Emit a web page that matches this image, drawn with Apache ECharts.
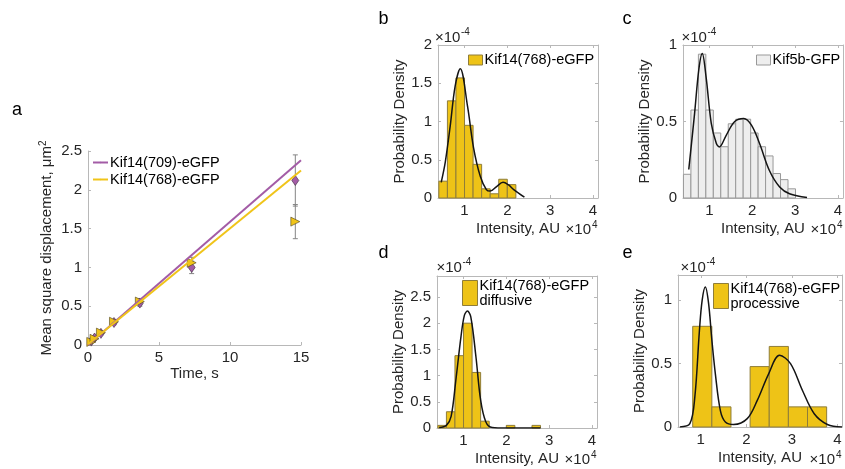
<!DOCTYPE html>
<html><head><meta charset="utf-8">
<script src="https://cdn.jsdelivr.net/npm/echarts@6/dist/echarts.min.js"></script>
<style>html,body{margin:0;padding:0;background:#fff}#c{width:845px;height:469px}</style>
</head><body><div id="c"></div>
<script>
// ---------- Panel a: mean square displacement ----------
const msdTime = [0.23, 0.46, 0.91, 1.83, 3.65, 7.3, 14.6];
const msd709 = [0.05, 0.09, 0.15, 0.29, 0.54, 1.00, 2.12];
const msd709Err = [0.01, 0.015, 0.02, 0.03, 0.04, 0.08, 0.33];
const msd768 = [0.04, 0.08, 0.16, 0.30, 0.56, 1.06, 1.59];
const msd768Err = [0.01, 0.015, 0.02, 0.03, 0.04, 0.07, 0.22];
const fitTime = [0, 15];
const fit709 = [0.0, 2.38];
const fit768 = [0.01, 2.25];
const aXTicks = [0, 5, 10, 15];
const aYTicks = [0, 0.5, 1, 1.5, 2, 2.5];

// ---------- Panel b: Kif14(768)-eGFP histogram ----------
const edgesB = [0.4, 0.6, 0.8, 1.0, 1.2, 1.4, 1.6, 1.8, 2.0, 2.2];
const densB = [0.22, 1.27, 1.57, 0.95, 0.44, 0.12, 0.055, 0.245, 0.175];
const fitBX = [0.455, 0.55, 0.665, 0.78, 0.9, 1.07, 1.21, 1.37, 1.51, 1.6, 1.75, 1.9, 2.03, 2.15, 2.4];
const fitBY = [0.205, 0.47, 0.94, 1.46, 1.69, 1.2, 0.66, 0.28, 0.11, 0.09, 0.15, 0.205, 0.17, 0.11, 0.01];
const bYTicks = [0, 0.5, 1, 1.5, 2];

// ---------- Panel c: Kif5b-GFP histogram ----------
const edgesC = [0.39, 0.565, 0.74, 0.914, 1.089, 1.263, 1.438, 1.612, 1.787, 1.962, 2.136, 2.311, 2.485, 2.66, 2.835, 3.01];
const densC = [0.155, 0.575, 0.94, 0.575, 0.425, 0.335, 0.485, 0.515, 0.515, 0.425, 0.335, 0.275, 0.16, 0.12, 0.06];
const fitCX = [0.515, 0.65, 0.75, 0.83, 0.92, 1.04, 1.16, 1.23, 1.39, 1.59, 1.8, 1.98, 2.17, 2.4, 2.64, 2.87, 3.28];
const fitCY = [0.186, 0.55, 0.84, 0.945, 0.79, 0.49, 0.356, 0.334, 0.41, 0.50, 0.52, 0.476, 0.356, 0.18, 0.072, 0.028, 0.003];
const cYTicks = [0, 0.5, 1];

// ---------- Panel d: diffusive ----------
const edgesD = [0.4, 0.6, 0.8, 1.0, 1.2, 1.4, 1.6, 1.8, 2.0, 2.2, 2.4, 2.6, 2.8];
const densD = [0.05, 0.31, 1.38, 2.0, 1.06, 0.13, 0, 0, 0.05, 0, 0, 0.05];
const fitDX = [0.43, 0.6, 0.71, 0.82, 0.94, 1.02, 1.09, 1.17, 1.29, 1.4, 1.52, 1.67, 2.0, 2.8];
const fitDY = [0.01, 0.05, 0.22, 0.91, 1.74, 2.15, 2.23, 2.12, 1.36, 0.53, 0.12, 0.01, 0, 0];
const dYTicks = [0, 0.5, 1, 1.5, 2, 2.5];

// ---------- Panel e: processive ----------
const edgesE = [0.823, 1.243, 1.663, 2.083, 2.503, 2.923, 3.343, 3.763];
const densE = [0.795, 0.159, 0, 0.477, 0.636, 0.159, 0.159];
const fitEX = [0.54, 0.76, 0.87, 0.97, 1.03, 1.1, 1.17, 1.24, 1.32, 1.43, 1.54, 1.72, 2.02, 2.24, 2.49, 2.73, 2.97, 3.23, 3.49, 3.78, 4.1];
const fitEY = [0.0, 0.026, 0.24, 0.76, 1.0, 1.105, 0.98, 0.7, 0.42, 0.13, 0.04, 0.02, 0.066, 0.21, 0.42, 0.566, 0.5, 0.29, 0.105, 0.02, 0.0];
const eYTicks = [0, 0.5, 1];

const histXTicks = [1, 2, 3, 4];

// ---------- styles ----------
const FONT = '"Liberation Sans", Arial, Helvetica, sans-serif';
const TXT = '#262626';
const AX = '#b8b8b8';
const PURPLE = '#A35CA6';
const YELLOW = '#F0C419';
const BARYEL = '#EEC317';
const BAREDGE = '#8f7d3a';
const GRAYBAR = '#EEEEEE';
const GRAYEDGE = '#999999';
const CURVE = '#141414';

function zip(xs, ys) { return xs.map((x, i) => [x, ys[i]]); }
function makeBars(edges, dens) { return dens.map((h, i) => [edges[i], edges[i + 1], h]); }

function barRender(fill, stroke) {
  return function (params, api) {
    const h = api.value(2);
    if (!(h > 0)) return null;
    const p0 = api.coord([api.value(0), 0]);
    const p1 = api.coord([api.value(1), h]);
    return { type: 'rect', shape: { x: p0[0], y: p1[1], width: p1[0] - p0[0], height: p0[1] - p1[1] },
      style: { fill: fill, stroke: stroke, lineWidth: 1 } };
  };
}
function errRender(params, api) {
  const x = api.value(0);
  const lo = api.coord([x, api.value(1)]);
  const hi = api.coord([x, api.value(2)]);
  const cw = 2.5, st = { stroke: '#858585', lineWidth: 1 };
  return { type: 'group', children: [
    { type: 'line', shape: { x1: lo[0], y1: lo[1], x2: hi[0], y2: hi[1] }, style: st },
    { type: 'line', shape: { x1: lo[0] - cw, y1: lo[1], x2: lo[0] + cw, y2: lo[1] }, style: st },
    { type: 'line', shape: { x1: hi[0] - cw, y1: hi[1], x2: hi[0] + cw, y2: hi[1] }, style: st }
  ] };
}

const nameStyle = { fontSize: 15, color: TXT, fontFamily: FONT };
function xAx(grid, min, max, ticks, extra) {
  return Object.assign({
    type: 'value', gridIndex: grid, min: min, max: max, position: 'bottom',
    axisLine: { show: true, onZero: false, lineStyle: { color: AX, width: 1 } },
    axisTick: { show: true, inside: true, length: 3, customValues: ticks, lineStyle: { color: AX } },
    axisLabel: { show: true, customValues: ticks, color: TXT, fontSize: 15, fontFamily: FONT, margin: 5 },
    splitLine: { show: false }
  }, extra || {});
}
function yAx(grid, min, max, ticks, extra) {
  return Object.assign({
    type: 'value', gridIndex: grid, min: min, max: max, position: 'left',
    axisLine: { show: true, onZero: false, lineStyle: { color: AX, width: 1 } },
    axisTick: { show: true, inside: true, length: 3, customValues: ticks, lineStyle: { color: AX } },
    axisLabel: { show: true, customValues: ticks, color: TXT, fontSize: 15, fontFamily: FONT, margin: 6 },
    splitLine: { show: false }
  }, extra || {});
}
function histX(grid, min, max) {
  return [
    xAx(grid, min, max, histXTicks, { name: 'Intensity, AU', nameLocation: 'middle', nameGap: 23, nameTextStyle: nameStyle }),
    xAx(grid, min, max, histXTicks, { position: 'top', axisLabel: { show: false } })
  ];
}
function histY(grid, max, ticks, gap) {
  return [
    yAx(grid, 0, max, ticks, { name: 'Probability Density', nameLocation: 'middle', nameRotate: 90, nameGap: gap, nameTextStyle: nameStyle }),
    yAx(grid, 0, max, ticks, { position: 'right', axisLabel: { show: false } })
  ];
}

function txt(x, y, s, size, align, vAlign) {
  return { type: 'text', x: x, y: y, style: { text: s, fontSize: size, fontFamily: FONT, fill: '#000', align: align || 'left', verticalAlign: vAlign || 'middle' } };
}
function expTop(x, baseline) {
  return [
    { type: 'text', x: x, y: baseline - 5, style: { text: '×10', fontSize: 15, fontFamily: FONT, fill: TXT, align: 'left', verticalAlign: 'middle' } },
    { type: 'text', x: x + 26, y: baseline - 10, style: { text: '-4', fontSize: 10, fontFamily: FONT, fill: TXT, align: 'left', verticalAlign: 'middle' } }
  ];
}
function expBottom(right, baseline) {
  return [
    { type: 'text', x: right - 7, y: baseline - 5, style: { text: '×10', fontSize: 15, fontFamily: FONT, fill: TXT, align: 'right', verticalAlign: 'middle' } },
    { type: 'text', x: right - 6, y: baseline - 10, style: { text: '4', fontSize: 10, fontFamily: FONT, fill: TXT, align: 'left', verticalAlign: 'middle' } }
  ];
}

const legText = { fontSize: 14.5, color: '#000', fontFamily: FONT, lineHeight: 15, padding: [0, 0, 0, -3] };

const option = {
  animation: false,
  backgroundColor: '#fff',
  grid: [
    { left: 88, top: 151, width: 213, height: 194 },
    { left: 438, top: 45, width: 160, height: 153 },
    { left: 683, top: 45, width: 160, height: 153 },
    { left: 437, top: 276, width: 160, height: 152 },
    { left: 678, top: 275, width: 164, height: 152 }
  ],
  xAxis: [
    xAx(0, 0, 15, aXTicks, { name: 'Time, s', nameLocation: 'middle', nameGap: 21, nameTextStyle: nameStyle }),
    ...histX(1, 0.38, 4.12),
    ...histX(2, 0.38, 4.12),
    ...histX(3, 0.38, 4.12),
    ...histX(4, 0.5, 4.1)
  ],
  yAxis: [
    yAx(0, 0, 2.5, aYTicks, { margin: 4, name: 'Mean square displacement, μm{sup|2}', nameLocation: 'middle', nameRotate: 90, nameGap: 32,
      nameTextStyle: Object.assign({}, nameStyle, { rich: { sup: { fontSize: 10, color: TXT, fontFamily: FONT, padding: [0, 0, 8, 0] } } }) }),
    ...histY(1, 2, bYTicks, 31),
    ...histY(2, 1, cYTicks, 29),
    ...histY(3, 2.9, dYTicks, 30),
    ...histY(4, 1.2, eYTicks, 24)
  ],
  legend: [
    { data: ['Kif14(709)-eGFP', 'Kif14(768)-eGFP'], left: 92, top: 155, orient: 'vertical', itemWidth: 15, itemHeight: 2, itemGap: 2, padding: 0, selectedMode: false, textStyle: legText },
    { data: [{ name: 'Kif14(768)-eGFP', icon: 'rect', itemStyle: { color: BARYEL, borderColor: BAREDGE, borderWidth: 1 } }],
      left: 468, top: 52, itemWidth: 14, itemHeight: 10, padding: 0, selectedMode: false, textStyle: Object.assign({}, legText, { lineHeight: 16 }) },
    { data: [{ name: 'Kif5b-GFP', icon: 'rect', itemStyle: { color: GRAYBAR, borderColor: GRAYEDGE, borderWidth: 1 } }],
      left: 756, top: 52, itemWidth: 14, itemHeight: 10, padding: 0, selectedMode: false, textStyle: Object.assign({}, legText, { lineHeight: 16 }) },
    { data: [{ name: 'Kif14(768)-eGFP\ndiffusive', icon: 'rect', itemStyle: { color: BARYEL, borderColor: BAREDGE, borderWidth: 1 } }],
      left: 462, top: 278, itemWidth: 15, itemHeight: 25, padding: 0, selectedMode: false, textStyle: legText },
    { data: [{ name: 'Kif14(768)-eGFP\nprocessive', icon: 'rect', itemStyle: { color: BARYEL, borderColor: BAREDGE, borderWidth: 1 } }],
      left: 713, top: 281, itemWidth: 15, itemHeight: 25, padding: 0, selectedMode: false, textStyle: legText }
  ],
  graphic: [
    txt(17, 110, 'a', 18, 'center'),
    txt(383.5, 19.5, 'b', 18, 'center'),
    txt(627, 19.5, 'c', 18, 'center'),
    txt(383.5, 253.5, 'd', 18, 'center'),
    txt(627.5, 253.5, 'e', 18, 'center'),
    ...expTop(435, 42.5), ...expTop(681.5, 42.5), ...expTop(436.5, 272.5), ...expTop(680.5, 272.5),
    ...expBottom(598, 235), ...expBottom(843, 235), ...expBottom(597, 465), ...expBottom(842, 465)
  ],
  series: [
    { type: 'line', name: 'Kif14(709)-eGFP', xAxisIndex: 0, yAxisIndex: 0, data: zip(fitTime, fit709), symbol: 'none',
      lineStyle: { color: PURPLE, width: 2 }, itemStyle: { color: PURPLE }, z: 5 },
    { type: 'line', name: 'Kif14(768)-eGFP', xAxisIndex: 0, yAxisIndex: 0, data: zip(fitTime, fit768), symbol: 'none',
      lineStyle: { color: YELLOW, width: 2 }, itemStyle: { color: YELLOW }, z: 5 },
    { type: 'custom', name: 'err709', xAxisIndex: 0, yAxisIndex: 0, renderItem: errRender, z: 2,
      data: msdTime.map((t, i) => [t, msd709[i] - msd709Err[i], msd709[i] + msd709Err[i]]), encode: { x: 0, y: [1, 2] } },
    { type: 'custom', name: 'err768', xAxisIndex: 0, yAxisIndex: 0, renderItem: errRender, z: 2,
      data: msdTime.map((t, i) => [t, msd768[i] - msd768Err[i], msd768[i] + msd768Err[i]]), encode: { x: 0, y: [1, 2] } },
    { type: 'scatter', name: 'pts709', xAxisIndex: 0, yAxisIndex: 0, data: zip(msdTime, msd709), symbol: 'diamond', symbolSize: [7, 10],
      itemStyle: { color: PURPLE, borderColor: '#3b2a3b', borderWidth: 0.6, opacity: 1 }, z: 3 },
    { type: 'scatter', name: 'pts768', xAxisIndex: 0, yAxisIndex: 0, data: zip(msdTime, msd768), symbol: 'triangle', symbolRotate: -90, symbolSize: 9,
      itemStyle: { color: YELLOW, borderColor: '#4a4020', borderWidth: 0.6, opacity: 1 }, z: 4 },

    { type: 'custom', name: 'Kif14(768)-eGFP', xAxisIndex: 1, yAxisIndex: 1, renderItem: barRender(BARYEL, BAREDGE),
      data: makeBars(edgesB, densB), encode: { x: [0, 1], y: 2 }, itemStyle: { color: BARYEL } },
    { type: 'line', name: 'fitB', xAxisIndex: 1, yAxisIndex: 1, data: zip(fitBX, fitBY), smooth: 0.35, symbol: 'none',
      lineStyle: { color: CURVE, width: 1.5 }, z: 5 },

    { type: 'custom', name: 'Kif5b-GFP', xAxisIndex: 3, yAxisIndex: 3, renderItem: barRender(GRAYBAR, GRAYEDGE),
      data: makeBars(edgesC, densC), encode: { x: [0, 1], y: 2 }, itemStyle: { color: GRAYBAR } },
    { type: 'line', name: 'fitC', xAxisIndex: 3, yAxisIndex: 3, data: zip(fitCX, fitCY), smooth: 0.35, symbol: 'none',
      lineStyle: { color: CURVE, width: 1.5 }, z: 5 },

    { type: 'custom', name: 'Kif14(768)-eGFP\ndiffusive', xAxisIndex: 5, yAxisIndex: 5, renderItem: barRender(BARYEL, BAREDGE),
      data: makeBars(edgesD, densD), encode: { x: [0, 1], y: 2 }, itemStyle: { color: BARYEL } },
    { type: 'line', name: 'fitD', xAxisIndex: 5, yAxisIndex: 5, data: zip(fitDX, fitDY), smooth: 0.35, symbol: 'none',
      lineStyle: { color: CURVE, width: 1.5 }, z: 5 },

    { type: 'custom', name: 'Kif14(768)-eGFP\nprocessive', xAxisIndex: 7, yAxisIndex: 7, renderItem: barRender(BARYEL, BAREDGE),
      data: makeBars(edgesE, densE), encode: { x: [0, 1], y: 2 }, itemStyle: { color: BARYEL } },
    { type: 'line', name: 'fitE', xAxisIndex: 7, yAxisIndex: 7, data: zip(fitEX, fitEY), smooth: 0.35, symbol: 'none',
      lineStyle: { color: CURVE, width: 1.5 }, z: 5 }
  ]
};

const chart = echarts.init(document.getElementById('c'), null, { renderer: 'canvas' });
chart.setOption(option);
</script>
</body></html>
